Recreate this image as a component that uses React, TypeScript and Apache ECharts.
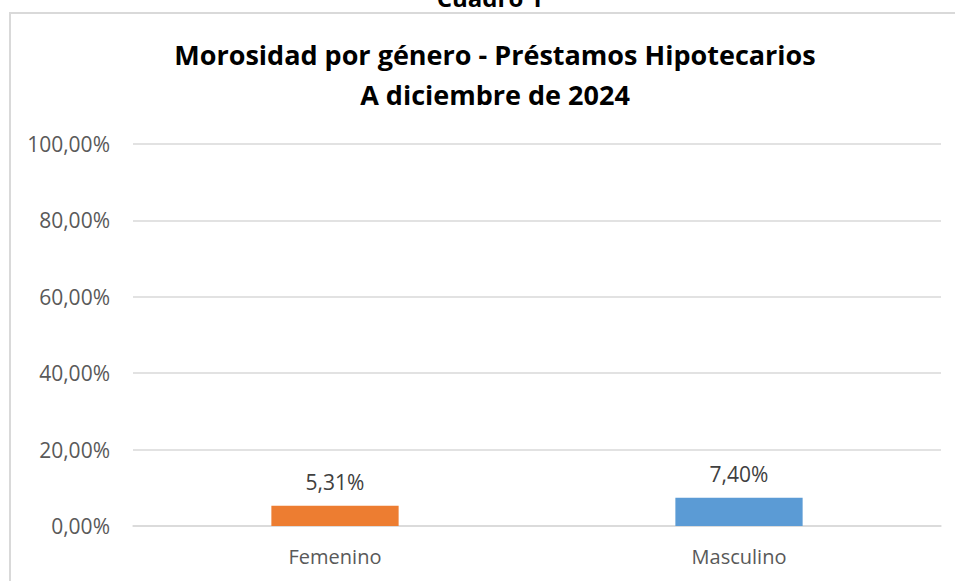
import React, { useEffect, useRef } from "react";
import * as echarts from "echarts";

const categories = ["Femenino", "Masculino"];
const values = [5.31, 7.4];
const barColors = ["#ED7D31", "#5B9BD5"];
const yTicks = [0, 20, 40, 60, 80, 100];
const titleLines = ["Morosidad por género - Préstamos Hipotecarios", "A diciembre de 2024"];
const headerText = "Cuadro 1";

const fmt = (v: number) => v.toFixed(2).replace(".", ",") + "%";
const FONT = "'Open Sans', sans-serif";

export default function App() {
  const ref = useRef<HTMLDivElement>(null);
  useEffect(() => {
    document.body.style.margin = "0";
    if (!ref.current) return;
    const chart = echarts.init(ref.current, undefined, { renderer: "svg" });
    chart.setOption({
      animation: false,
      backgroundColor: "#ffffff",
      title: {
        text: titleLines.join("\n"),
        left: 490,
        textAlign: "center",
        top: 29,
        textStyle: {
          fontFamily: FONT,
          fontSize: 27,
          fontWeight: "bold",
          lineHeight: 40,
          color: "#000000",
        },
      },
      graphic: [
        {
          type: "rect",
          shape: { x: 10, y: 13, width: 960, height: 600 },
          style: { fill: "none", stroke: "#d9d9d9", lineWidth: 2 },
          silent: true,
        },
        {
          type: "text",
          x: 490,
          y: 9,
          style: {
            text: headerText,
            fontFamily: FONT,
            fontSize: 24,
            fontWeight: "bold",
            fill: "#000000",
            textAlign: "center",
            textVerticalAlign: "bottom",
          },
        },
      ],
      grid: { left: 133, right: 14, top: 144, bottom: 55, containLabel: false },
      xAxis: {
        type: "category",
        data: categories,
        axisTick: { show: false },
        axisLine: { lineStyle: { color: "#d9d9d9", width: 1.5 } },
        axisLabel: { fontFamily: FONT, fontSize: 20, color: "#595959", margin: 20 },
      },
      yAxis: {
        type: "value",
        min: 0,
        max: yTicks[yTicks.length - 1],
        interval: yTicks[1] - yTicks[0],
        axisLine: { show: false },
        axisTick: { show: false },
        splitLine: { lineStyle: { color: "#d9d9d9", width: 1.5 } },
        axisLabel: { fontFamily: FONT, fontSize: 21, color: "#595959", margin: 23, formatter: (v: number) => fmt(v) },
      },
      series: [
        {
          type: "bar",
          barWidth: "31.5%",
          data: values.map((v, i) => ({ value: v, itemStyle: { color: barColors[i] } })),
          label: {
            show: true,
            position: "top",
            distance: 13,
            fontFamily: FONT,
            fontSize: 21,
            color: "#404040",
            formatter: (p: any) => fmt(p.value),
          },
        },
      ],
    });
    return () => chart.dispose();
  }, []);
  return <div ref={ref} style={{ width: 955, height: 581 }} />;
}
